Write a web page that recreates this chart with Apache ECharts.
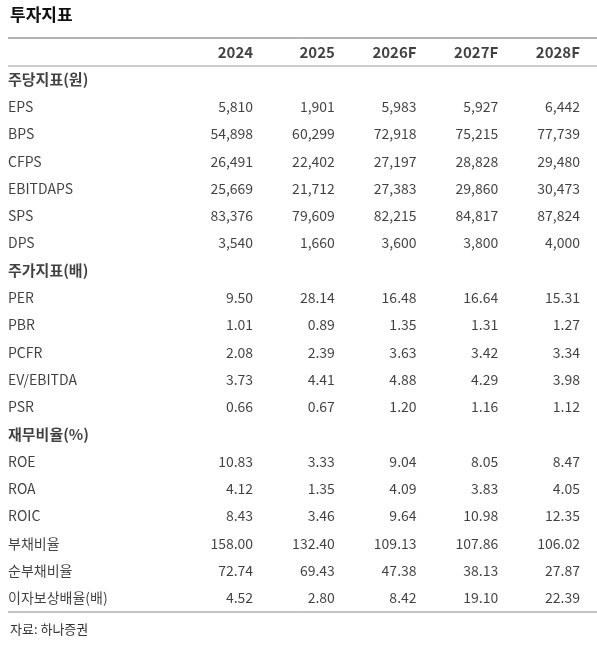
<!DOCTYPE html><html><head><meta charset="utf-8"><script src="https://cdn.jsdelivr.net/npm/echarts@6/dist/echarts.min.js"></script>
<style>html,body{margin:0;background:#fff}#c{width:597px;height:647px}</style></head><body><div id="c"></div><script>
const years=['2024','2025','2026F','2027F','2028F'];
const rowLabels=['','주당지표(원)','EPS','BPS','CFPS','EBITDAPS','SPS','DPS','주가지표(배)','PER','PBR','PCFR','EV/EBITDA','PSR','재무비율(%)','ROE','ROA','ROIC','부채비율','순부채비율','이자보상배율(배)'];
const sectionRows=[1,8,14];
const EPS=['5,810','1,901','5,983','5,927','6,442'];
const BPS=['54,898','60,299','72,918','75,215','77,739'];
const CFPS=['26,491','22,402','27,197','28,828','29,480'];
const EBITDAPS=['25,669','21,712','27,383','29,860','30,473'];
const SPS=['83,376','79,609','82,215','84,817','87,824'];
const DPS=['3,540','1,660','3,600','3,800','4,000'];
const PER=['9.50','28.14','16.48','16.64','15.31'];
const PBR=['1.01','0.89','1.35','1.31','1.27'];
const PCFR=['2.08','2.39','3.63','3.42','3.34'];
const EVEBITDA=['3.73','4.41','4.88','4.29','3.98'];
const PSR=['0.66','0.67','1.20','1.16','1.12'];
const ROE=['10.83','3.33','9.04','8.05','8.47'];
const ROA=['4.12','1.35','4.09','3.83','4.05'];
const ROIC=['8.43','3.46','9.64','10.98','12.35'];
const DEBT=['158.00','132.40','109.13','107.86','106.02'];
const NETDEBT=['72.74','69.43','47.38','38.13','27.87'];
const ICR=['4.52','2.80','8.42','19.10','22.39'];
const rowValues=[years,null,EPS,BPS,CFPS,EBITDAPS,SPS,DPS,null,PER,PBR,PCFR,EVEBITDA,PSR,null,ROE,ROA,ROIC,DEBT,NETDEBT,ICR];
const font='"Noto Sans CJK KR","Noto Sans",sans-serif';
const labelPts=[],valPts=[];
rowLabels.forEach((l,i)=>{if(l)labelPts.push({value:[-2,i],name:l,label:sectionRows.includes(i)?{fontWeight:'bold',fontSize:15}:{}});});
rowValues.forEach((arr,i)=>{if(arr)arr.forEach((v,j)=>valPts.push({value:[j+1,i],name:v,label:i===0?{fontWeight:'bold',fontSize:15}:{}}));});
const ch=echarts.init(document.getElementById('c'));
ch.setOption({
 animation:false,
 grid:{left:8,right:17,top:52,bottom:49},
 xAxis:{type:'value',min:-2,max:5,show:false},
 yAxis:{type:'value',min:0,max:20,inverse:true,show:false},
 graphic:[
  {type:'text',left:10,top:6,style:{text:'투자지표',font:'bold 17px '+font,fill:'#111'}},
  {type:'line',shape:{x1:8,y1:38,x2:597,y2:38},style:{stroke:'#666',lineWidth:1}},
  {type:'line',shape:{x1:8,y1:66,x2:597,y2:66},style:{stroke:'#999',lineWidth:1}},
  {type:'line',shape:{x1:8,y1:612,x2:597,y2:612},style:{stroke:'#888',lineWidth:1}},
  {type:'text',left:10,top:623,style:{text:'자료: 하나증권',font:'13px '+font,fill:'#333'}}
 ],
 series:[
  {type:'scatter',symbolSize:0,data:labelPts,label:{show:true,position:'inside',align:'left',verticalAlign:'middle',formatter:p=>p.name,fontFamily:font,fontSize:14,color:'#111'}},
  {type:'scatter',symbolSize:0,data:valPts,label:{show:true,position:'inside',align:'right',verticalAlign:'middle',formatter:p=>p.name,fontFamily:font,fontSize:14,color:'#111'}}
 ]
});
</script></body></html>
